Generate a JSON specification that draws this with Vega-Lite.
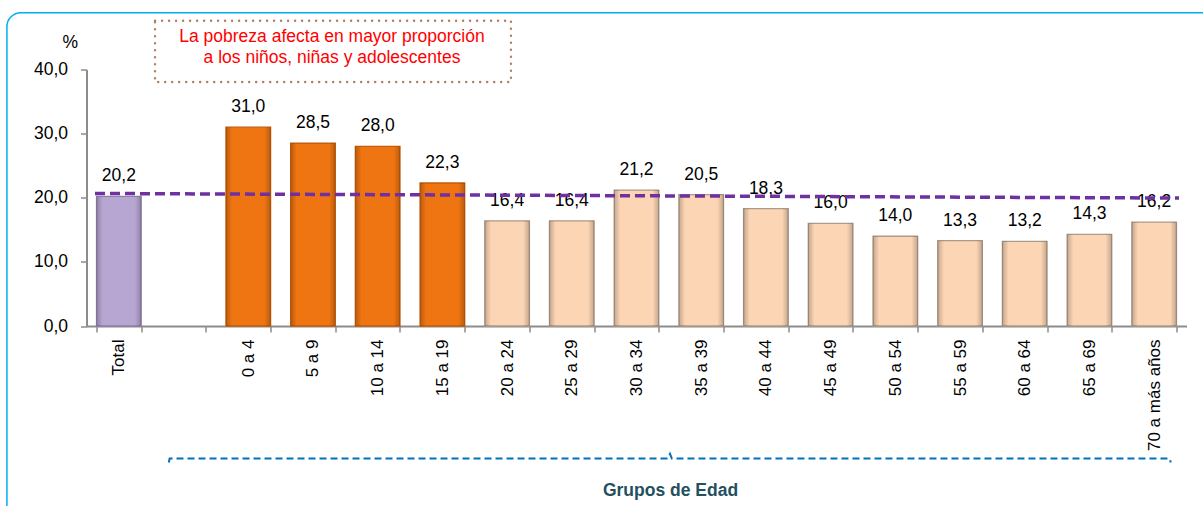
{
  "$schema": "https://vega.github.io/schema/vega-lite/v6.json",
  "width": 1100,
  "height": 256.5,
  "autosize": {"type": "none"},
  "padding": {"left": 86.5, "top": 69.5, "right": 16.5, "bottom": 180},
  "background": "white",
  "config": {
    "locale": {"number": {"decimal": ",", "thousands": ".", "grouping": [3], "currency": ["", ""]}},
    "view": {"stroke": null},
    "font": "Liberation Sans"
  },
  "datasets": {
    "grupos": [
      {"grupo": "Total", "pct": 20.2, "tipo": "Total"},
      {"grupo": "0 a 4", "pct": 31.0, "tipo": "NNA"},
      {"grupo": "5 a 9", "pct": 28.5, "tipo": "NNA"},
      {"grupo": "10 a 14", "pct": 28.0, "tipo": "NNA"},
      {"grupo": "15 a 19", "pct": 22.3, "tipo": "NNA"},
      {"grupo": "20 a 24", "pct": 16.4, "tipo": "Adulto"},
      {"grupo": "25 a 29", "pct": 16.4, "tipo": "Adulto"},
      {"grupo": "30 a 34", "pct": 21.2, "tipo": "Adulto"},
      {"grupo": "35 a 39", "pct": 20.5, "tipo": "Adulto"},
      {"grupo": "40 a 44", "pct": 18.3, "tipo": "Adulto"},
      {"grupo": "45 a 49", "pct": 16.0, "tipo": "Adulto"},
      {"grupo": "50 a 54", "pct": 14.0, "tipo": "Adulto"},
      {"grupo": "55 a 59", "pct": 13.3, "tipo": "Adulto"},
      {"grupo": "60 a 64", "pct": 13.2, "tipo": "Adulto"},
      {"grupo": "65 a 69", "pct": 14.3, "tipo": "Adulto"},
      {"grupo": "70 a más años", "pct": 16.2, "tipo": "Adulto"}
    ],
    "marco": [{"x0": -1.23, "x1": 17.5, "y0": 48.86, "y1": -31}],
    "recuadro": [{"x0": 1.059, "x1": 6.56, "y0": 47.61, "y1": 38.05}],
    "nota": [{"x": 3.794, "y": 44.34, "texto": ["La pobreza afecta en mayor proporción", "a los niños, niñas y adolescentes"]}],
    "llave": [
      {"k": 1, "x": 1.272, "y": -21.29},
      {"k": 2, "x": 1.285, "y": -20.66},
      {"k": 3, "x": 8.99, "y": -20.66},
      {"k": 4, "x": 9.018, "y": -19.96},
      {"k": 5, "x": 9.046, "y": -20.66},
      {"k": 6, "x": 16.74, "y": -20.66},
      {"k": 7, "x": 16.756, "y": -21.29}
    ],
    "tendencia": [{"x0": 0.131, "x1": 16.884, "y0": 20.67, "y1": 19.95}]
  },
  "layer": [
    {
      "layer": [
        {
          "data": {"name": "marco"},
          "mark": {"type": "rect", "filled": false, "stroke": "#00B0F0", "strokeWidth": 1.5, "cornerRadius": 14, "clip": false},
          "encoding": {
            "x": {"field": "x0", "type": "quantitative", "scale": {"domain": [0, 17], "nice": false, "zero": false}, "axis": null},
            "x2": {"field": "x1"},
            "y": {"field": "y0", "type": "quantitative", "scale": {"domain": [0, 40], "nice": false}, "axis": null},
            "y2": {"field": "y1"}
          }
        },
        {
          "data": {"name": "recuadro"},
          "mark": {"type": "rect", "filled": false, "stroke": "#AD8163", "strokeWidth": 2.4, "strokeDash": [0.1, 6.9], "strokeCap": "round"},
          "encoding": {
            "x": {"field": "x0", "type": "quantitative", "scale": {"domain": [0, 17], "nice": false, "zero": false}, "axis": null},
            "x2": {"field": "x1"},
            "y": {"field": "y0", "type": "quantitative", "scale": {"domain": [0, 40], "nice": false}, "axis": null},
            "y2": {"field": "y1"}
          }
        },
        {
          "data": {"name": "nota"},
          "mark": {"type": "text", "align": "center", "baseline": "alphabetic", "fontSize": 17.5, "lineHeight": 21.6, "color": "#FF0000"},
          "encoding": {
            "x": {"field": "x", "type": "quantitative", "scale": {"domain": [0, 17], "nice": false, "zero": false}, "axis": null},
            "y": {"field": "y", "type": "quantitative", "scale": {"domain": [0, 40], "nice": false}, "axis": null},
            "text": {"field": "texto"}
          }
        },
        {
          "data": {"name": "llave"},
          "mark": {"type": "line", "color": "#0070C0", "strokeWidth": 2, "strokeDash": [7, 4]},
          "encoding": {
            "x": {"field": "x", "type": "quantitative", "scale": {"domain": [0, 17], "nice": false, "zero": false}, "axis": null},
            "y": {"field": "y", "type": "quantitative", "scale": {"domain": [0, 40], "nice": false}, "axis": null},
            "order": {"field": "k", "type": "quantitative"}
          }
        }
      ],
      "resolve": {"axis": {"y": "independent"}}
    },
    {
      "data": {"name": "grupos"},
      "encoding": {
        "x": {
          "field": "grupo", "type": "nominal",
          "scale": {"domain": ["Total", " ", "0 a 4", "5 a 9", "10 a 14", "15 a 19", "20 a 24", "25 a 29", "30 a 34", "35 a 39", "40 a 44", "45 a 49", "50 a 54", "55 a 59", "60 a 64", "65 a 69", "70 a más años"], "paddingInner": 0.31, "paddingOuter": 0.155},
          "axis": {
            "title": "Grupos de Edad", "titleFont": "Liberation Sans", "titleFontSize": 17.5, "titleFontWeight": "bold", "titleColor": "#24505E",
            "titleX": 583.5, "titleY": 169, "titleAlign": "center", "titleBaseline": "alphabetic",
            "labelAngle": -90, "labelAlign": "right", "labelBaseline": "middle", "labelFontSize": 17, "labelColor": "#000000", "labelPadding": 7,
            "tickBand": "extent", "tickSize": 6, "tickColor": "#8C8C8C", "tickWidth": 1.5,
            "domainColor": "#8C8C8C", "domainWidth": 2, "grid": false
          }
        },
        "y": {
          "field": "pct", "type": "quantitative",
          "scale": {"domain": [0, 40], "nice": false},
          "axis": {
            "title": "%", "titleAngle": 0, "titleX": -16.8, "titleY": -22.5, "titleAlign": "center", "titleBaseline": "alphabetic", "titleFontSize": 17.5, "titleFontWeight": "normal", "titleColor": "#000000",
            "values": [0, 10, 20, 30, 40], "format": ".1f", "labelFontSize": 17.5, "labelColor": "#000000", "labelPadding": 13,
            "tickSize": 6, "tickColor": "#8C8C8C", "tickWidth": 1.5, "domainColor": "#8C8C8C", "domainWidth": 2, "grid": false
          }
        }
      },
      "layer": [
        {
          "mark": {"type": "bar", "strokeWidth": 1.3},
          "encoding": {
            "fill": {"field": "tipo", "type": "nominal", "scale": {"domain": ["Total", "NNA", "Adulto"], "range": ["#B7A6D2", "#EF7512", "#FCD5B5"]}, "legend": null},
            "stroke": {"field": "tipo", "type": "nominal", "scale": {"domain": ["Total", "NNA", "Adulto"], "range": ["#8F80A8", "#C45E0C", "#AD9A88"]}, "legend": null}
          }
        },
        {
          "mark": {
            "type": "bar",
            "fill": {"gradient": "linear", "x1": 0, "x2": 1, "y1": 0, "y2": 0, "stops": [
              {"offset": 0, "color": "rgba(0,0,0,0.22)"},
              {"offset": 0.14, "color": "rgba(0,0,0,0)"},
              {"offset": 0.86, "color": "rgba(0,0,0,0)"},
              {"offset": 1, "color": "rgba(0,0,0,0.22)"}
            ]}
          }
        },
        {
          "mark": {"type": "text", "align": "center", "baseline": "alphabetic", "dy": -15, "fontSize": 17.5, "color": "#000000"},
          "encoding": {
            "text": {"field": "pct", "type": "quantitative", "format": ".1f"}
          }
        }
      ]
    },
    {
      "data": {"name": "tendencia"},
      "mark": {"type": "rule", "color": "#7030A0", "strokeWidth": 3.5, "strokeDash": [10, 5]},
      "encoding": {
        "x": {"field": "x0", "type": "quantitative", "scale": {"domain": [0, 17], "nice": false, "zero": false}, "axis": null},
        "x2": {"field": "x1"},
        "y": {"field": "y0", "type": "quantitative", "scale": {"domain": [0, 40], "nice": false}, "axis": null},
        "y2": {"field": "y1"}
      }
    }
  ],
  "resolve": {"scale": {"x": "independent"}, "axis": {"y": "independent"}}
}
